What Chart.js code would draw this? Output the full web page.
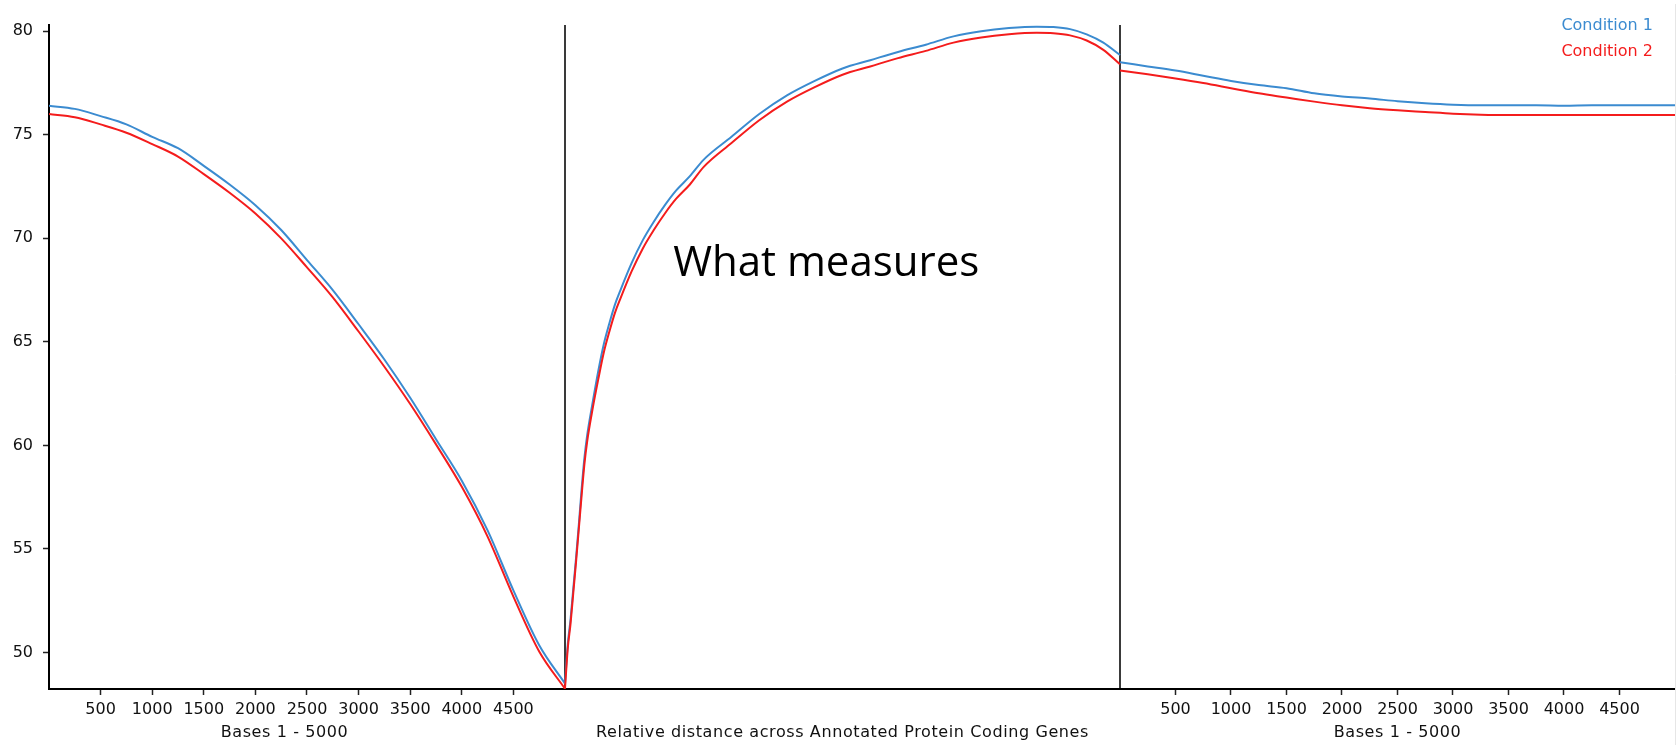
<!DOCTYPE html>
<html>
<head>
<meta charset="utf-8">
<title>Relative distance across Annotated Protein Coding Genes</title>
<script src="https://cdn.jsdelivr.net/npm/chart.js"></script>
<style>
    html, body { margin: 0; padding: 0; background: #ffffff; }
    canvas { display: block; }
</style>
</head>
<body>
<canvas id="profileChart" width="1680" height="745"></canvas>
<script>
// upstream flank, bases 1 - 5000
const leftBases = [0, 250, 500, 750, 1000, 1250, 1500, 1750, 2000, 2250, 2500, 2750, 3000, 3250, 3500, 3750, 4000, 4250, 4500, 4750, 5000];
const leftCond1 = [76.4, 76.25, 75.9, 75.5, 74.9, 74.35, 73.5, 72.6, 71.6, 70.4, 68.95, 67.5, 65.85, 64.15, 62.3, 60.3, 58.3, 55.9, 53.0, 50.35, 48.5];
const leftCond2 = [76.0, 75.85, 75.5, 75.1, 74.55, 73.95, 73.1, 72.2, 71.2, 70.0, 68.6, 67.15, 65.5, 63.8, 62.0, 60.05, 58.0, 55.6, 52.7, 50.05, 48.25];

// gene body, relative distance in percent
const midPct = [0, 0.5, 1, 1.5, 2, 2.5, 3, 3.5, 4, 5, 6, 7, 8, 9, 10, 12, 14, 16, 18, 20, 22.5, 25, 30, 35, 40, 45, 50, 55, 60, 65, 70, 75, 80, 85, 88, 91, 94, 97, 100];
const midCond1 = [48.5, 50.4, 51.6, 53.1, 54.6, 56.2, 57.9, 59.4, 60.5, 62.1, 63.6, 64.9, 65.9, 66.8, 67.5, 68.8, 69.9, 70.8, 71.6, 72.3, 73.0, 73.8, 74.9, 76.0, 76.9, 77.6, 78.2, 78.6, 79.0, 79.35, 79.75, 80.0, 80.15, 80.22, 80.2, 80.1, 79.85, 79.45, 78.85];
const midCond2 = [48.25, 50.2, 51.4, 52.9, 54.4, 56.0, 57.6, 59.1, 60.2, 61.8, 63.2, 64.5, 65.5, 66.4, 67.1, 68.4, 69.5, 70.4, 71.2, 71.9, 72.6, 73.45, 74.6, 75.7, 76.6, 77.3, 77.9, 78.3, 78.7, 79.05, 79.45, 79.7, 79.85, 79.92, 79.9, 79.8, 79.55, 79.1, 78.4];

// downstream flank, bases 1 - 5000
const rightBases = [0, 250, 500, 750, 1000, 1250, 1500, 1750, 2000, 2250, 2500, 2750, 3000, 3250, 3500, 3750, 4000, 4250, 4500, 4750, 5000];
const rightCond1 = [78.5, 78.3, 78.1, 77.85, 77.6, 77.4, 77.25, 77.0, 76.85, 76.75, 76.62, 76.52, 76.45, 76.42, 76.42, 76.42, 76.4, 76.42, 76.42, 76.42, 76.42];
const rightCond2 = [78.1, 77.92, 77.72, 77.5, 77.25, 77.0, 76.8, 76.6, 76.42, 76.28, 76.18, 76.1, 76.02, 75.97, 75.95, 75.95, 75.95, 75.95, 75.95, 75.95, 75.95];

const seriesNames = ['Condition 1', 'Condition 2'];
const flankTicks = [500, 1000, 1500, 2000, 2500, 3000, 3500, 4000, 4500];
const yTicks = [50, 55, 60, 65, 70, 75, 80];
const flankLabel = 'Bases 1 - 5000';
const midLabel = 'Relative distance across Annotated Protein Coding Genes';
const noteText = 'What measures';

const BLUE = '#3b8bd0';
const RED = '#f41c1c';
const FONT = '"DejaVu Sans", sans-serif';

// the three panels share one linear x axis, each panel gets its own span
const LEFT_SPAN = 5000;
const MID_SPAN = 5378;
const RIGHT_SPAN = 5378;

function leftX(b) { return b / 5000 * LEFT_SPAN; }
function midX(p) { return LEFT_SPAN + p / 100 * MID_SPAN; }
function rightX(b) { return LEFT_SPAN + MID_SPAN + b / 5000 * RIGHT_SPAN; }

function points(xs, ys, toX) {
    return xs.map((v, i) => ({ x: toX(v), y: ys[i] }));
}

const tickList = [];
flankTicks.forEach(v => tickList.push({ value: leftX(v), label: String(v) }));
tickList.push({ value: midX(0), label: '', divider: true });
tickList.push({ value: midX(100), label: '', divider: true });
flankTicks.forEach(v => tickList.push({ value: rightX(v), label: String(v) }));

function line(label, data, color, order) {
    return {
        label: label,
        data: data,
        borderColor: color,
        borderWidth: 2,
        pointRadius: 0,
        fill: false,
        cubicInterpolationMode: 'monotone',
        order: order
    };
}

const datasets = [
    line(seriesNames[0], points(leftBases, leftCond1, leftX), BLUE, 2),
    line(seriesNames[0], points(midPct, midCond1, midX), BLUE, 2),
    line(seriesNames[0], points(rightBases, rightCond1, rightX), BLUE, 2),
    line(seriesNames[1], points(leftBases, leftCond2, leftX), RED, 1),
    line(seriesNames[1], points(midPct, midCond2, midX), RED, 1),
    line(seriesNames[1], points(rightBases, rightCond2, rightX), RED, 1)
];

const extras = {
    id: 'extras',
    afterDraw(chart) {
        const c = chart.ctx;
        const area = chart.chartArea;
        const xs = chart.scales.x;
        const ys = chart.scales.y;
        const d1 = xs.getPixelForValue(midX(0));
        const d2 = xs.getPixelForValue(midX(100));
        c.save();

        // faint frame edge on the right
        c.strokeStyle = '#e6e6e6';
        c.lineWidth = 1;
        c.beginPath();
        c.moveTo(area.right + 0.5, 4);
        c.lineTo(area.right + 0.5, chart.height);
        c.stroke();

        // panel captions under the axis
        c.font = '16px ' + FONT;
        c.fillStyle = '#111';
        c.textAlign = 'center';
        c.textBaseline = 'middle';
        c.letterSpacing = '0.6px';
        const capY = area.bottom + 44;
        c.fillText(flankLabel, d1 / 2 + 2, capY);
        c.fillText(midLabel, (d1 + d2) / 2, capY);
        c.fillText(flankLabel, (d2 + area.right) / 2, capY);
        c.letterSpacing = '0px';

        // legend, coloured text only
        c.textAlign = 'right';
        c.fillStyle = BLUE;
        c.fillText(seriesNames[0], area.right - 22, area.top + 1);
        c.fillStyle = RED;
        c.fillText(seriesNames[1], area.right - 22, area.top + 27);

        // note in the gene body panel
        c.font = '42px "Open Sans", sans-serif';
        c.fillStyle = '#000';
        c.textAlign = 'left';
        c.textBaseline = 'alphabetic';
        c.fillText(noteText, xs.getPixelForValue(midX(19.5)), ys.getPixelForValue(68.2));
        c.restore();
    }
};

new Chart(document.getElementById('profileChart').getContext('2d'), {
    type: 'line',
    data: { datasets: datasets },
    options: {
        responsive: false,
        animation: false,
        layout: { padding: { top: 25, right: 5, left: 0, bottom: 0 } },
        plugins: {
            legend: { display: false },
            tooltip: { enabled: false }
        },
        scales: {
            x: {
                type: 'linear',
                min: 0,
                max: LEFT_SPAN + MID_SPAN + RIGHT_SPAN,
                afterBuildTicks(scale) {
                    scale.ticks = tickList.map(t => ({ value: t.value }));
                },
                afterFit(scale) { scale.height = 56; },
                border: { display: true, color: '#000', width: 2 },
                grid: {
                    drawOnChartArea: true,
                    color: ctx => (tickList[ctx.index] && tickList[ctx.index].divider) ? '#3a3a3a' : 'rgba(0,0,0,0)',
                    lineWidth: ctx => (tickList[ctx.index] && tickList[ctx.index].divider) ? 2 : 1,
                    tickColor: ctx => (tickList[ctx.index] && tickList[ctx.index].divider) ? 'rgba(0,0,0,0)' : '#222',
                    tickLength: 6,
                    tickWidth: 1.5
                },
                ticks: {
                    autoSkip: false,
                    maxRotation: 0,
                    padding: 5,
                    color: '#111',
                    font: { family: FONT, size: 16 },
                    callback: (value, index) => tickList[index] ? tickList[index].label : ''
                }
            },
            y: {
                min: 48.24,
                max: 80.3,
                afterBuildTicks(scale) {
                    scale.ticks = yTicks.map(v => ({ value: v }));
                },
                afterFit(scale) { scale.width = 49; },
                border: { display: true, color: '#000', width: 2 },
                grid: {
                    drawOnChartArea: false,
                    tickLength: 6,
                    tickColor: '#222',
                    tickWidth: 1.5
                },
                ticks: {
                    padding: 10,
                    color: '#111',
                    font: { family: FONT, size: 16 }
                }
            }
        }
    },
    plugins: [extras]
});
</script>
</body>
</html>
